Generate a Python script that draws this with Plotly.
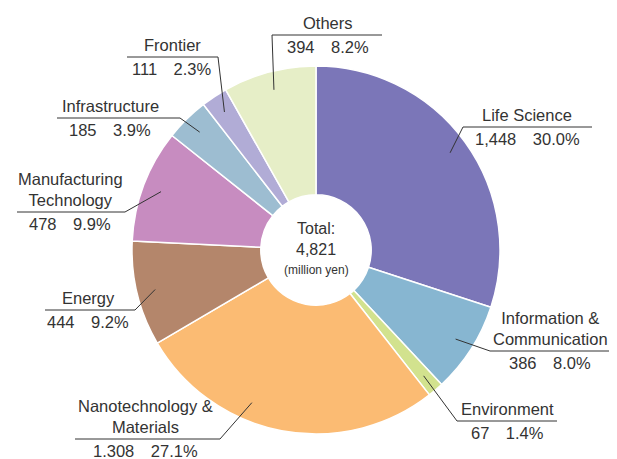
import math
import plotly.graph_objects as go

# ---- data ----
categories = ["Life Science", "Information &<br>Communication", "Environment",
              "Nanotechnology &<br>Materials", "Energy", "Manufacturing<br>Technology",
              "Infrastructure", "Frontier", "Others"]
values = [1448, 386, 67, 1308, 444, 478, 185, 111, 394]
value_labels = ["1,448", "386", "67", "1.308", "444", "478", "185", "111", "394"]
percent_labels = ["30.0%", "8.0%", "1.4%", "27.1%", "9.2%", "9.9%", "3.9%", "2.3%", "8.2%"]
total_label = "4,821"

colors = ["#7b76b8", "#87b6d1", "#d2e28e", "#fbbb73", "#b4866b", "#c78cc0",
          "#9dbdd1", "#b1acd6", "#e6eec7"]

# page offset (body margin) and figure size
OFF = 8
W, H = 617 - OFF, 459 - OFF
# pie box in page pixels
PX0, PX1, PY0, PY1 = 132, 500, 66, 434
CX, CY, R = (PX0 + PX1) / 2, (PY0 + PY1) / 2, (PX1 - PX0) / 2


def px(x):
    return (x - OFF) / W


def py(y):
    return 1 - (y - OFF) / H


# label layout: elbow (ex, ey), underline x0..x1, text centre x, angle offset (deg)
label_layout = [
    dict(ex=463, ey=127, ux0=463, ux1=592, tx=527, off=0),
    dict(ex=490, ey=351, ux0=490, ux1=612, tx=550, off=0),
    dict(ex=457, ey=421, ux0=457, ux1=557, tx=507, off=0),
    dict(ex=220, ey=439, ux0=75, ux1=220, tx=145, off=12),
    dict(ex=135, ey=310, ux0=45, ux1=135, tx=88, off=0),
    dict(ex=125, ey=212, ux0=17, ux1=125, tx=70, off=0),
    dict(ex=180, ey=118, ux0=57, ux1=180, tx=110, off=0),
    dict(ex=218, ey=57, ux0=127, ux1=218, tx=172, off=0),
    dict(ex=272, ey=35, ux0=272, ux1=382, tx=328, off=0),
]

FONT = "Liberation Sans, Arial, sans-serif"
TXT = "#333333"
FS = 16.5

fig = go.Figure(go.Pie(
    values=values,
    labels=categories,
    sort=False,
    direction="clockwise",
    rotation=0,
    hole=0.30,
    marker=dict(colors=colors, line=dict(color="white", width=1.5)),
    textinfo="none",
    hoverinfo="label+value+percent",
    domain=dict(x=[px(PX0), px(PX1)], y=[py(PY1), py(PY0)]),
    showlegend=False,
))

shapes = []
annotations = []
total = sum(values)
cum = 0
for i, v in enumerate(values):
    mid = (cum + v / 2) / total
    cum += v
    L = label_layout[i]
    theta = 2 * math.pi * mid + math.radians(L["off"])
    sx = CX + 0.9 * R * math.sin(theta)
    sy = CY - 0.9 * R * math.cos(theta)
    line = dict(color=TXT, width=1)
    shapes.append(dict(type="line", xref="paper", yref="paper",
                       x0=px(sx), y0=py(sy), x1=px(L["ex"]), y1=py(L["ey"]), line=line))
    shapes.append(dict(type="line", xref="paper", yref="paper",
                       x0=px(L["ux0"]), y0=py(L["ey"]), x1=px(L["ux1"]), y1=py(L["ey"]), line=line))
    annotations.append(dict(xref="paper", yref="paper", x=px(L["tx"]), y=py(L["ey"] - 1),
                            text=categories[i], showarrow=False, xanchor="center", yanchor="bottom",
                            align="center", font=dict(family=FONT, size=FS, color=TXT)))
    annotations.append(dict(xref="paper", yref="paper", x=px(L["tx"]), y=py(L["ey"] + 1),
                            text=value_labels[i] + "\u2003" + percent_labels[i], showarrow=False,
                            xanchor="center", yanchor="top",
                            font=dict(family=FONT, size=FS, color=TXT)))

annotations += [
    dict(xref="paper", yref="paper", x=px(CX), y=py(228), text="Total:", showarrow=False,
         font=dict(family=FONT, size=16, color=TXT)),
    dict(xref="paper", yref="paper", x=px(CX), y=py(249), text=total_label, showarrow=False,
         font=dict(family=FONT, size=16, color=TXT)),
    dict(xref="paper", yref="paper", x=px(CX), y=py(270), text="(million yen)", showarrow=False,
         font=dict(family=FONT, size=12, color=TXT)),
]

fig.update_layout(
    width=W, height=H,
    margin=dict(l=0, r=0, t=0, b=0),
    paper_bgcolor="white", plot_bgcolor="white",
    shapes=shapes, annotations=annotations,
)

fig.write_html("out.html")
